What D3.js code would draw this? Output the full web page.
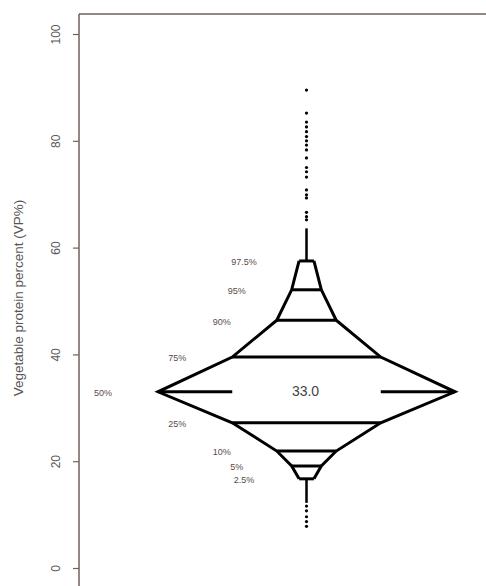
<!DOCTYPE html>
<html>
<head>
<meta charset="utf-8">
<script src="https://cdn.jsdelivr.net/npm/d3@7"></script>
<style>
html,body{margin:0;padding:0;background:#fff;}
svg{display:block;}
</style>
</head>
<body>
<svg id="chart" width="486" height="586"></svg>
<script>
// ---- data ----
const levelLabels = ["2.5%","5%","10%","25%","50%","75%","90%","95%","97.5%"];
const levelProbs  = [0.025,0.05,0.10,0.25,0.50,0.75,0.90,0.95,0.975];
const levelValues = [16.7,19.1,21.9,27.2,33.0,39.5,46.4,52.1,57.5];
const medianText = "33.0";
const upperWhiskerEnd = 63.6;
const lowerWhiskerEnd = 12.2;
const upperPoints = [89.5,85.2,83.5,82.6,81.7,80.8,80.0,79.2,78.3,76.8,75.0,74.2,73.2,70.8,69.9,69.3,66.6,65.8,65.2];
const lowerPoints = [11.6,10.7,9.6,8.7,7.8];
const yTicks = [0,20,40,60,80,100];
const yTitle = "Vegetable protein percent (VP%)";

// ---- layout ----
const svg = d3.select("#chart");
const axisX = 79, frameTop = 14;
const y = d3.scaleLinear().domain([0,100]).range([568,34]);
const x = d3.scaleLinear().domain([-0.5,0.5]).range([158,455]);
const axisColor = "#6e625c";

// frame: left axis line and top border
svg.append("line").attr("x1",axisX).attr("x2",axisX).attr("y1",frameTop).attr("y2",586)
  .attr("stroke",axisColor).attr("stroke-width",1.5);
svg.append("line").attr("x1",axisX).attr("x2",486).attr("y1",frameTop).attr("y2",frameTop)
  .attr("stroke",axisColor).attr("stroke-width",1.5);

// y axis
const yAxis = d3.axisLeft(y).tickValues(yTicks).tickSize(6).tickPadding(10).tickFormat(d3.format("d"));
const gy = svg.append("g").attr("transform",`translate(${axisX},0)`).call(yAxis);
gy.select(".domain").remove();
gy.selectAll(".tick line").attr("stroke",axisColor).attr("stroke-width",1.2);
gy.selectAll(".tick text")
  .attr("fill","#5a5a5a").attr("font-family","Liberation Sans, Arial, sans-serif").attr("font-size",12)
  .attr("dy",null)
  .attr("transform","rotate(-90)")
  .attr("x",0).attr("y",-22)
  .attr("text-anchor","middle").attr("dominant-baseline","middle");

svg.append("text").attr("transform",`translate(19,${298}) rotate(-90)`)
  .attr("text-anchor","middle").attr("dominant-baseline","middle")
  .attr("font-family","Liberation Sans, Arial, sans-serif").attr("font-size",13.5).attr("fill","#555")
  .text(yTitle);

// ---- letter-value shape ----
const levels = levelProbs.map((p,i)=>({p, v:levelValues[i], label:levelLabels[i], hw:Math.min(p,1-p)}));
const g = svg.append("g");
const line = d3.line().x(d=>x(d[0])).y(d=>y(d[1]));
const leftPts = levels.map(l=>[-l.hw,l.v]);
const rightPts = levels.map(l=>[l.hw,l.v]);
g.append("path").attr("d",line(leftPts)).attr("fill","none").attr("stroke","#000").attr("stroke-width",3).attr("stroke-linejoin","miter");
g.append("path").attr("d",line(rightPts)).attr("fill","none").attr("stroke","#000").attr("stroke-width",3).attr("stroke-linejoin","miter");

levels.forEach(l=>{
  if (l.p === 0.5) {
    const q = levels.find(d=>d.p===0.25).hw;
    g.append("line").attr("x1",x(-0.5)).attr("x2",x(-q)).attr("y1",y(l.v)).attr("y2",y(l.v)).attr("stroke","#000").attr("stroke-width",3);
    g.append("line").attr("x1",x(q)).attr("x2",x(0.5)).attr("y1",y(l.v)).attr("y2",y(l.v)).attr("stroke","#000").attr("stroke-width",3);
  } else {
    g.append("line").attr("x1",x(-l.hw)).attr("x2",x(l.hw)).attr("y1",y(l.v)).attr("y2",y(l.v)).attr("stroke","#000").attr("stroke-width",3);
  }
  g.append("text").attr("x",x(-l.hw)-55).attr("y",y(l.v)+2)
    .attr("text-anchor","middle").attr("dominant-baseline","middle")
    .attr("font-family","Liberation Sans, Arial, sans-serif").attr("font-size",9).attr("fill","#5a4a48")
    .text(l.label);
});

g.append("text").attr("x",x(0)-1).attr("y",y(33.0)+1)
  .attr("text-anchor","middle").attr("dominant-baseline","middle")
  .attr("font-family","Liberation Sans, Arial, sans-serif").attr("font-size",14).attr("fill","#444")
  .text(medianText);

// whiskers
const topV = levels[levels.length-1].v, botV = levels[0].v;
g.append("line").attr("x1",x(0)).attr("x2",x(0)).attr("y1",y(topV)).attr("y2",y(upperWhiskerEnd)).attr("stroke","#000").attr("stroke-width",2.5);
g.append("line").attr("x1",x(0)).attr("x2",x(0)).attr("y1",y(botV)).attr("y2",y(lowerWhiskerEnd)).attr("stroke","#000").attr("stroke-width",2.5);

// outlier points
g.selectAll("circle.pt").data(upperPoints.concat(lowerPoints)).join("circle")
  .attr("class","pt").attr("cx",x(0)).attr("cy",d=>y(d)).attr("r",1.6).attr("fill","#000");
</script>
</body>
</html>
